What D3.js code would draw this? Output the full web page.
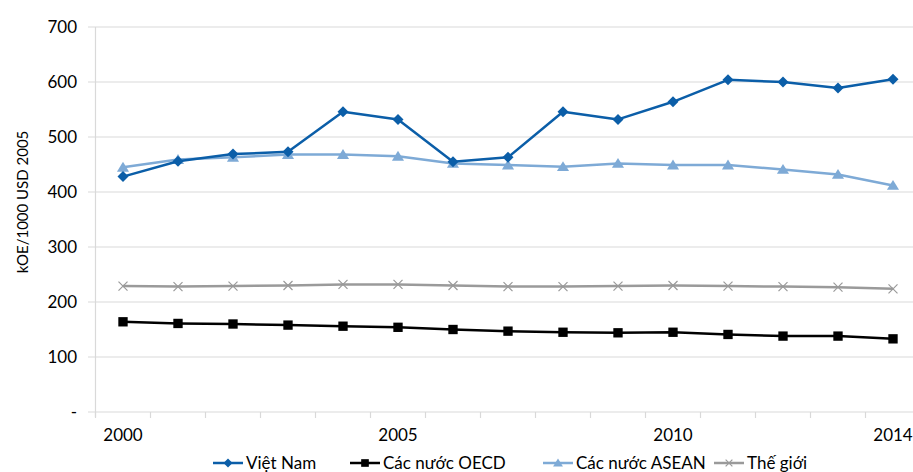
<!DOCTYPE html>
<html><head><meta charset="utf-8">
<script src="https://cdn.jsdelivr.net/npm/d3@7"></script>
<style>
body{margin:0;background:#fff;}
svg{font-family:Lato,"Open Sans",sans-serif;}
</style></head>
<body>
<svg id="c" width="913" height="472"></svg>
<script>
const years = [2000,2001,2002,2003,2004,2005,2006,2007,2008,2009,2010,2011,2012,2013,2014];
const xLabels = [2000,2005,2010,2014];
const yTicks = [0,100,200,300,400,500,600,700];
const vietNam = [428,456,469,473,546,532,455,463,546,532,564,604,600,589,605];
const oecd    = [164,161,160,158,156,154,150,147,145,144,145,141,138,138,133];
const asean   = [445,459,463,468,468,465,452,449,446,452,449,449,441,432,412];
const world   = [229,228,229,230,232,232,230,228,228,229,230,229,228,227,224];
const seriesNames = ["Việt Nam","Các nước OECD","Các nước ASEAN","Thế giới"];
const yTitle = "kOE/1000 USD 2005";

const series = [
  {name:seriesNames[0], values:vietNam, color:"#0b5ea8", sym:"diamond", w:2.5},
  {name:seriesNames[1], values:oecd, color:"#000000", sym:"square", w:2.5},
  {name:seriesNames[2], values:asean, color:"#7eaad6", sym:"triangle", w:2.5},
  {name:seriesNames[3], values:world, color:"#9a9a9a", sym:"x", w:2.5}
];

const svg = d3.select("#c");
const plotLeft = 95.5, plotTop = 27, plotBottom = 412;
const x = d3.scaleBand().domain(years).range([plotLeft, plotLeft + 55*years.length]);
const y = d3.scaleLinear().domain([0,700]).range([plotBottom, plotTop]);
const cx = d => x(d) + x.bandwidth()/2;

// gridlines
svg.append("g").selectAll("line").data(yTicks).join("line")
  .attr("x1", 88).attr("x2", 913)
  .attr("y1", d=>y(d)).attr("y2", d=>y(d))
  .attr("stroke", "#d9d9d9").attr("stroke-width", 1.2);
// y axis line
svg.append("line").attr("x1", plotLeft).attr("x2", plotLeft).attr("y1", plotTop).attr("y2", plotBottom+5)
  .attr("stroke", "#d9d9d9").attr("stroke-width", 1.2);
// y labels
svg.append("g").selectAll("text").data(yTicks).join("text")
  .attr("x", 77).attr("y", d=>y(d)).attr("dy", "0.36em")
  .attr("text-anchor", "end").attr("font-size", 17).attr("fill", "#000")
  .text(d => d === 0 ? "-" : d);
// x tick marks at band edges
const edges = years.map(d => x(d)).concat([x(years[years.length-1]) + x.bandwidth()]);
svg.append("g").selectAll("line").data(edges).join("line")
  .attr("x1", d=>d).attr("x2", d=>d).attr("y1", plotBottom).attr("y2", plotBottom+6)
  .attr("stroke", "#d9d9d9").attr("stroke-width", 1.2);
// x labels
svg.append("g").selectAll("text").data(xLabels).join("text")
  .attr("x", d=>cx(d)).attr("y", 441).attr("text-anchor", "middle")
  .attr("font-size", 17).attr("fill", "#000").text(d=>d);
// y title
svg.append("text").attr("transform", "translate(28,202) rotate(-90)")
  .attr("text-anchor", "middle").attr("font-size", 15).text(yTitle);

function marker(g, sym, color, px, py, s) {
  if (sym === "diamond") {
    g.append("path").attr("d", `M${px},${py-s}L${px+s},${py}L${px},${py+s}L${px-s},${py}Z`).attr("fill", color);
  } else if (sym === "square") {
    g.append("rect").attr("x", px-s*0.85).attr("y", py-s*0.85).attr("width", s*1.7).attr("height", s*1.7).attr("fill", color);
  } else if (sym === "triangle") {
    g.append("path").attr("d", `M${px},${py-s}L${px+s*1.1},${py+s*0.8}L${px-s*1.1},${py+s*0.8}Z`).attr("fill", color);
  } else {
    const k = s*0.75;
    g.append("path").attr("d", `M${px-k},${py-k}L${px+k},${py+k}M${px-k},${py+k}L${px+k},${py-k}`)
      .attr("stroke", color).attr("stroke-width", 1.2).attr("fill", "none");
  }
}

const line = d3.line().x((d,i)=>cx(years[i])).y(d=>y(d));
const drawOrder = [3,1,2,0];
drawOrder.forEach(k => {
  const s = series[k];
  const g = svg.append("g");
  g.append("path").attr("d", line(s.values)).attr("fill", "none")
    .attr("stroke", s.color).attr("stroke-width", s.w).attr("stroke-linejoin", "round");
  s.values.forEach((v,i) => marker(g, s.sym, s.color, cx(years[i]), y(v), s.sym==="x"?6:5.5));
});

// legend
const legX = [213, 350, 543, 714];
series.forEach((s,i) => {
  const g = svg.append("g");
  const ly = 463;
  g.append("line").attr("x1", legX[i]).attr("x2", legX[i]+30).attr("y1", ly).attr("y2", ly)
    .attr("stroke", s.color).attr("stroke-width", 2.5);
  marker(g, s.sym, s.color, legX[i]+15, ly, 4.5);
  g.append("text").attr("x", legX[i]+33).attr("y", ly).attr("dy", "0.36em")
    .attr("font-size", 17).attr("fill", "#000").text(s.name);
});
</script>
</body></html>
